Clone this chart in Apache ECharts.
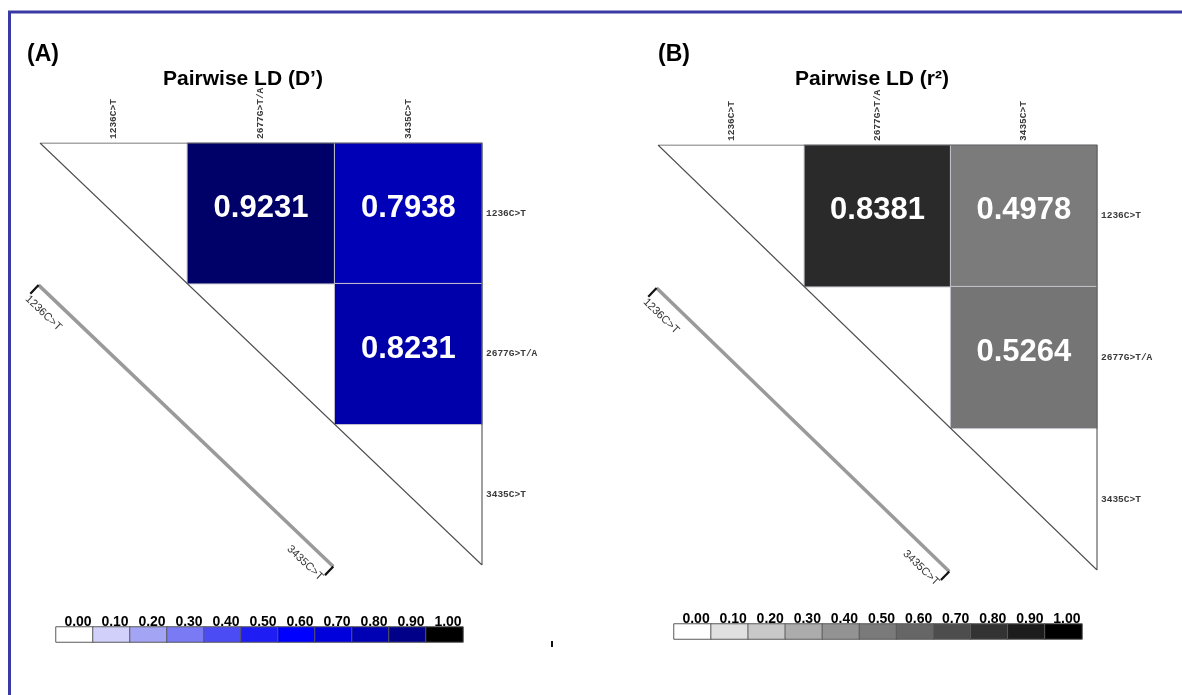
<!DOCTYPE html>
<html>
<head>
<meta charset="utf-8">
<title>Pairwise LD</title>
<script src="https://cdn.jsdelivr.net/npm/echarts@6/dist/echarts.min.js"></script>
<style>
  html, body { margin: 0; padding: 0; background: #ffffff; }
  #chart { width: 1182px; height: 695px; }
</style>
</head>
<body>
<div id="chart"></div>
<script>
// Markers on both axes of the LD matrices
const snps = ['1236C>T', '2677G>T/A', '3435C>T'];

// Pairwise LD values: [column, row, value]
const dPrimeValues = [[1, 0, 0.9231], [2, 0, 0.7938], [2, 1, 0.8231]];
const r2Values = [[1, 0, 0.8381], [2, 0, 0.4978], [2, 1, 0.5264]];

// Colour key ticks and their values
const keyLabels = ['0.00', '0.10', '0.20', '0.30', '0.40', '0.50', '0.60', '0.70', '0.80', '0.90', '1.00'];
const keyValues = [0.0, 0.1, 0.2, 0.3, 0.4, 0.5, 0.6, 0.7, 0.8, 0.9, 1.0];

// Colour ramps (one stop per key tick)
const dPrimeColors = ['#ffffff', '#d0d0fa', '#a4a4f4', '#7a7af4', '#4c4cf4', '#1e1ef4', '#0000ff', '#0000dc', '#0000b4', '#000088', '#000000'];
const r2Colors = ['#ffffff', '#e0e0e0', '#c8c8c8', '#acacac', '#939393', '#7a7a7a', '#666666', '#4d4d4d', '#333333', '#1c1c1c', '#000000'];

// Layout
const gridA = { left: 40, top: 143, width: 442, height: 422 };
const gridB = { left: 658, top: 145, width: 439, height: 425 };
const keyA = { left: 56, top: 627, width: 407, height: 15 };
const keyB = { left: 674, top: 624, width: 408, height: 15 };

const monoLabel = { fontFamily: 'Liberation Mono', fontSize: 9.5, fontWeight: 'bold', color: '#3a3a3a' };

function matrixAxes(gridIndex) {
  return {
    x: [
      {
        gridIndex, type: 'category', data: snps, position: 'top',
        axisLine: { show: false }, axisTick: { show: false }, splitLine: { show: false },
        axisLabel: Object.assign({ rotate: 90, margin: 4, interval: 0 }, monoLabel)
      },
      { gridIndex, type: 'value', min: 0, max: snps.length, show: false }
    ],
    y: [
      {
        gridIndex, type: 'category', data: snps, position: 'right', inverse: true,
        axisLine: { show: false }, axisTick: { show: false }, splitLine: { show: false },
        axisLabel: Object.assign({ margin: 4, interval: 0 }, monoLabel)
      },
      { gridIndex, type: 'value', min: 0, max: snps.length, inverse: true, show: false }
    ]
  };
}

function keyAxes(gridIndex) {
  return {
    x: [{
      gridIndex, type: 'category', data: keyLabels, position: 'top',
      axisLine: { show: false }, axisTick: { show: false }, splitLine: { show: false },
      axisLabel: {
        interval: 0, margin: -2, padding: [0, 0, 0, 7],
        fontFamily: 'Liberation Sans', fontWeight: 'bold', fontSize: 14, color: '#000000'
      }
    }],
    y: [{ gridIndex, type: 'category', data: [''], show: false }]
  };
}

const axA = matrixAxes(0), axKA = keyAxes(1), axB = matrixAxes(2), axKB = keyAxes(3);
const xAxes = [].concat(axA.x, axKA.x, axB.x, axKB.x); // indices: 0,1 | 2 | 3,4 | 5
const yAxes = [].concat(axA.y, axKA.y, axB.y, axKB.y);

function cellSeries(data, xi, yi) {
  return {
    type: 'heatmap', xAxisIndex: xi, yAxisIndex: yi, data,
    itemStyle: { borderColor: '#c4c4cc', borderWidth: 1 },
    label: {
      show: true, offset: [0, -5],
      formatter: p => p.value[2].toFixed(4),
      color: '#ffffff', fontFamily: 'Liberation Sans', fontWeight: 'bold', fontSize: 31
    },
    emphasis: { disabled: true }
  };
}

function outlineSeries(xi, yi) {
  const n = snps.length;
  return {
    type: 'line', xAxisIndex: xi, yAxisIndex: yi, symbol: 'none', silent: true,
    data: [[0, 0], [n, 0], [n, n], [0, 0]],
    lineStyle: { color: '#505050', width: 1.1 }, z: 5
  };
}

function keySeries(xi, yi) {
  return {
    type: 'heatmap', xAxisIndex: xi, yAxisIndex: yi,
    data: keyValues.map((v, i) => [i, 0, v]),
    itemStyle: { borderColor: '#5a5a5a', borderWidth: 1 },
    emphasis: { disabled: true }
  };
}

// Marker track drawn parallel to the diagonal, below the triangle
function trackGraphics(g) {
  const n = snps.length;
  const cw = g.width / n, rh = g.height / n;
  let sx = g.left, sy = g.top + rh;
  let ex = g.left + (n - 1) * cw, ey = g.top + g.height;
  const dx = ex - sx, dy = ey - sy, len = Math.hypot(dx, dy);
  const ux = dx / len, uy = dy / len;
  const qx = -uy, qy = ux; // points to the lower-left side
  sx += qx * 2; sy += qy * 2; ex += qx * 2; ey += qy * 2;
  const ang = Math.atan2(dy, dx);
  const capLen = 12, labelGap = 17;
  const labelStyle = (text, align) => ({
    text, fill: '#333333', font: '11px "Liberation Sans"',
    align, verticalAlign: 'middle', textAlign: align, textVerticalAlign: 'middle'
  });
  return [
    { type: 'line', shape: { x1: sx, y1: sy, x2: ex, y2: ey }, style: { stroke: '#9a9a9a', lineWidth: 3.5 } },
    { type: 'line', shape: { x1: sx, y1: sy, x2: sx + qx * capLen, y2: sy + qy * capLen }, style: { stroke: '#111111', lineWidth: 2.2 } },
    { type: 'line', shape: { x1: ex, y1: ey, x2: ex + qx * capLen, y2: ey + qy * capLen }, style: { stroke: '#111111', lineWidth: 2.2 } },
    { type: 'text', x: sx + qx * labelGap, y: sy + qy * labelGap, rotation: -ang, style: labelStyle(snps[0], 'left') },
    { type: 'text', x: ex + qx * labelGap, y: ey + qy * labelGap, rotation: -ang, style: labelStyle(snps[n - 1], 'right') }
  ];
}

const frameColor = '#3a3aa6';
const graphics = [
  { type: 'line', shape: { x1: 8, y1: 12, x2: 1182, y2: 12 }, style: { stroke: frameColor, lineWidth: 3 } },
  { type: 'line', shape: { x1: 9.5, y1: 11, x2: 9.5, y2: 695 }, style: { stroke: frameColor, lineWidth: 3 } },
  { type: 'rect', shape: { x: 551, y: 641, width: 2, height: 6 }, style: { fill: '#111111' } }
].concat(trackGraphics(gridA), trackGraphics(gridB));

const panelTitle = { fontFamily: 'Liberation Sans', fontWeight: 'bold', fontSize: 23, color: '#000000' };
const chartTitle = { fontFamily: 'Liberation Sans', fontWeight: 'bold', fontSize: 21, color: '#000000' };

const option = {
  backgroundColor: '#ffffff',
  animation: false,
  title: [
    { text: '(A)', left: 22, top: 38, textStyle: panelTitle },
    { text: '(B)', left: 653, top: 38, textStyle: panelTitle },
    { text: 'Pairwise LD (D\u2019)', left: 238, top: 64, textAlign: 'center', textStyle: chartTitle },
    { text: 'Pairwise LD (r\u00b2)', left: 867, top: 64, textAlign: 'center', textStyle: chartTitle }
  ],
  grid: [
    Object.assign({}, gridA),
    Object.assign({}, keyA),
    Object.assign({}, gridB),
    Object.assign({}, keyB)
  ],
  xAxis: xAxes,
  yAxis: yAxes,
  visualMap: [
    { type: 'continuous', show: false, min: 0, max: 1, dimension: 2, seriesIndex: [0, 2], inRange: { color: dPrimeColors } },
    { type: 'continuous', show: false, min: 0, max: 1, dimension: 2, seriesIndex: [3, 5], inRange: { color: r2Colors } }
  ],
  series: [
    cellSeries(dPrimeValues, 0, 0),
    outlineSeries(1, 1),
    keySeries(2, 2),
    cellSeries(r2Values, 3, 3),
    outlineSeries(4, 4),
    keySeries(5, 5)
  ],
  graphic: graphics
};

const chart = echarts.init(document.getElementById('chart'), null, { renderer: 'canvas' });
chart.setOption(option);
</script>
</body>
</html>
